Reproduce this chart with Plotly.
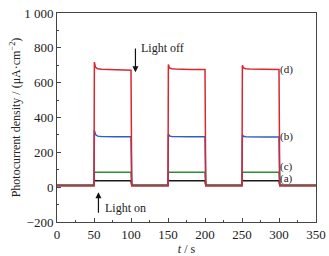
import plotly.graph_objects as go

t = [0, 49, 50, 50.5, 52, 55, 60, 80, 99.5, 100, 101, 149, 150, 150.5, 152, 155, 160, 180, 199.5, 200, 201,
     249, 250, 250.5, 252, 255, 260, 280, 299.5, 300, 301, 350]

curve_a = [10, 10, 10, 38, 37, 37, 37, 37, 37, 37, 10, 10, 10, 38, 37, 37, 37, 37, 37, 37, 10,
           10, 10, 38, 37, 37, 37, 37, 37, 37, 10, 10]
curve_c = [12, 12, 12, 86, 85, 85, 85, 85, 85, 85, 12, 12, 12, 86, 85, 85, 85, 85, 85, 85, 12,
           12, 12, 86, 85, 85, 85, 85, 85, 85, 12, 12]
curve_b = [10, 10, 10, 325, 302, 293, 291, 290, 289, 289, 10, 10, 10, 305, 294, 291, 290, 289, 289, 289, 10,
           10, 10, 300, 292, 290, 289, 288, 288, 288, 10, 10]
curve_d = [8, 8, 8, 718, 688, 680, 677, 674, 672, 672, 8, 8, 8, 705, 685, 680, 678, 676, 675, 675, 8,
           8, 8, 700, 685, 680, 678, 677, 676, 676, 8, 8]

labels = ["(d)", "(b)", "(c)", "(a)"]
label_y = [675, 290, 117, 50]

FONT = "Liberation Serif"

fig = go.Figure()
for y, c in [(curve_a, "#1a1a1a"), (curve_c, "#2e8b3a"), (curve_b, "#2f5fc4"), (curve_d, "#d9272e")]:
    fig.add_trace(go.Scatter(x=t, y=y, mode="lines", line=dict(color=c, width=1.5), showlegend=False,
                             hoverinfo="skip"))

for lab, ly in zip(labels, label_y):
    fig.add_annotation(x=310, y=ly, text=lab, showarrow=False, xanchor="center",
                       font=dict(family=FONT, size=11, color="#222"))

fig.add_annotation(x=106, y=660, ax=106, ay=805, axref="x", ayref="y", text="", showarrow=True,
                   arrowhead=2, arrowsize=1, arrowwidth=1.2, arrowcolor="#111")
fig.add_annotation(x=111, y=800, text="Light off", showarrow=False, xanchor="left",
                   font=dict(family=FONT, size=12, color="#222"))
fig.add_annotation(x=56, y=-29, ax=56, ay=-155, axref="x", ayref="y", text="", showarrow=True,
                   arrowhead=2, arrowsize=1, arrowwidth=1.2, arrowcolor="#111")
fig.add_annotation(x=62, y=-120, text="Light on", showarrow=False, xanchor="left",
                   font=dict(family=FONT, size=12, color="#222"))

fig.update_layout(
    width=329, height=256,
    margin=dict(l=57, r=13, t=13, b=34),
    paper_bgcolor="white", plot_bgcolor="white",
    font=dict(family=FONT, size=13, color="#222"),
)
fig.update_xaxes(range=[0, 350], tickvals=[0, 50, 100, 150, 200, 250, 300, 350],
                 ticks="inside", ticklen=4, tickcolor="#444", automargin=False,
                 tickfont=dict(size=13), ticklabeloverflow="allow",
                 minor=dict(ticks="inside", ticklen=2, dtick=25, tickcolor="#444"),
                 showline=True, linecolor="#444", linewidth=1, mirror=True, showgrid=False, zeroline=False,
                 title=dict(text="<i>t</i> / s", standoff=0, font=dict(size=12)))
fig.update_yaxes(range=[-200, 1000], tickvals=[-200, 0, 200, 400, 600, 800, 1000],
                 ticktext=["\u2212200", "0", "200", "400", "600", "800", "1 000"],
                 ticks="inside", ticklen=4, tickcolor="#444", automargin=False,
                 tickfont=dict(size=13), ticklabeloverflow="allow",
                 minor=dict(ticks="inside", ticklen=2, dtick=100, tickcolor="#444"),
                 showline=True, linecolor="#444", linewidth=1, mirror=True, showgrid=False, zeroline=False,
                 title=dict(text="Photocurrent density / (\u03bcA\u00b7cm<sup>\u22122</sup>)", standoff=0,
                            font=dict(size=12)))

fig.write_html("out.html", config={"displayModeBar": False, "staticPlot": True},
               post_script="document.body.style.margin='0';document.body.style.overflow='hidden';")
